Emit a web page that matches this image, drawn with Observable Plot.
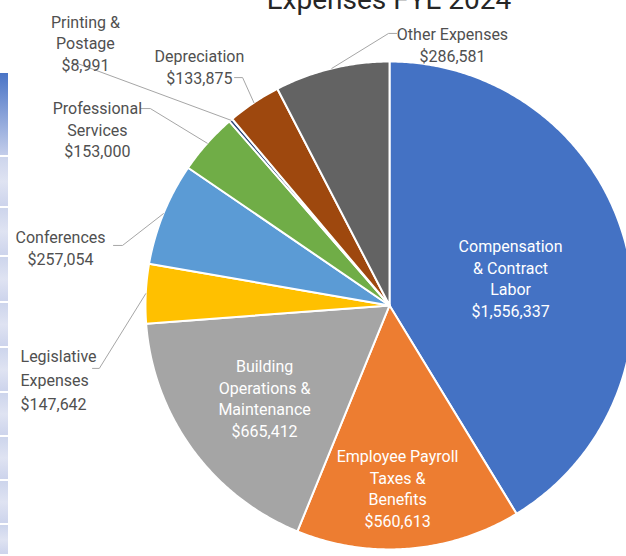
<!DOCTYPE html>
<html>
<head>
<meta charset="utf-8">
<script src="https://cdn.jsdelivr.net/npm/d3@7"></script>
<script src="https://cdn.jsdelivr.net/npm/@observablehq/plot@0.6"></script>
<style>
  html, body { margin: 0; padding: 0; background: #fff; overflow: hidden; width: 626px; height: 556px; }
  #wrap { position: relative; width: 626px; height: 556px; overflow: hidden; }
  #title { position: absolute; left: 0; width: 778px; top: -14px; text-align: center;
           font-family: Roboto, sans-serif; font-size: 28px; line-height: 28px; color: #262626; z-index: 2; }
  #strip { position: absolute; left: 0; top: 73px; width: 8px; height: 483px; z-index: 2; }
  #chart { position: absolute; left: 0; top: 0; }
</style>
</head>
<body>
<div id="wrap">
  <div id="strip"></div>
  <div id="chart"></div>
  <div id="title">Expenses FYE 2024</div>
</div>
<script>
// ---- data ----
const categories = [
  "Compensation & Contract Labor",
  "Employee Payroll Taxes & Benefits",
  "Building Operations & Maintenance",
  "Legislative Expenses",
  "Conferences",
  "Professional Services",
  "Printing & Postage",
  "Depreciation",
  "Other Expenses"
];
const values = [1556337, 560613, 665412, 147642, 257054, 153000, 8991, 133875, 286581];
const labelLines = [
  "Compensation\n& Contract\nLabor",
  "Employee Payroll\nTaxes &\nBenefits",
  "Building\nOperations &\nMaintenance",
  "Legislative\nExpenses",
  "Conferences",
  "Professional\nServices",
  "Printing &\nPostage",
  "Depreciation",
  "Other Expenses"
];

// ---- style ----
const colors = ["#4472C4", "#ED7D31", "#A5A5A5", "#FFC000", "#5B9BD5", "#70AD47", "#264478", "#9E480E", "#636363"];
// label layout in pie-radius units (center = 0,0)
const labelLayout = [
  {x: 0.496, y: 0.115, anchor: "middle", inside: true},
  {x: 0.033, y: -0.746, anchor: "middle", inside: true},
  {x: -0.512, y: -0.377, anchor: "middle", inside: true},
  {x: -1.512, y: -0.298, anchor: "start", lead: [[-1.217, -0.258], [-1.189, -0.258]]},
  {x: -1.348, y: 0.240, anchor: "middle", lead: [[-1.131, 0.246], [-1.094, 0.246]]},
  {x: -1.197, y: 0.724, anchor: "middle", lead: [[-1.020, 0.807], [-0.980, 0.807]]},
  {x: -1.246, y: 1.078, anchor: "middle", lead: [[-1.303, 0.992], [-1.279, 0.992]]},
  {x: -0.779, y: 0.980, anchor: "middle", lead: [[-0.635, 0.934], [-0.602, 0.934]]},
  {x: 0.258, y: 1.072, anchor: "middle", lead: [[0.029, 1.115], [-0.004, 1.115]]}
];

// ---- geometry from values ----
const arcs = d3.pie().sort(null).value(d => d)(values);
const slicePts = [];
arcs.forEach((p, i) => {
  const name = categories[i];
  const n = Math.max(2, Math.ceil((p.endAngle - p.startAngle) / (Math.PI / 360)));
  slicePts.push({name, x: 0, y: 0});
  for (let k = 0; k <= n; k++) {
    const a = p.startAngle + (p.endAngle - p.startAngle) * k / n;
    slicePts.push({name, x: Math.sin(a), y: Math.cos(a)});
  }
  slicePts.push({name, x: 0, y: 0});
});

const leaderPts = [];
arcs.forEach((p, i) => {
  const L = labelLayout[i];
  if (!L.lead) return;
  const mid = (p.startAngle + p.endAngle) / 2;
  const name = categories[i];
  leaderPts.push({name, x: L.lead[0][0], y: L.lead[0][1]});
  leaderPts.push({name, x: L.lead[1][0], y: L.lead[1][1]});
  leaderPts.push({name, x: Math.sin(mid), y: Math.cos(mid)});
});

const fmt = d3.format(",");
const labels = categories.map((c, i) => ({
  name: c,
  text: labelLines[i] + "\n$" + fmt(values[i]),
  x: labelLayout[i].x, y: labelLayout[i].y,
  anchor: labelLayout[i].anchor,
  inside: !!labelLayout[i].inside
}));

const chart = Plot.plot({
  width: 626,
  height: 556,
  margin: 0,
  x: {domain: [-1.594, 0.971], axis: null},
  y: {domain: [-1.029, 1.250], axis: null},
  color: {domain: categories, range: colors},
  style: {fontFamily: "Roboto, sans-serif", background: "transparent"},
  marks: [
    Plot.line(slicePts, {x: "x", y: "y", z: "name", fill: "name", stroke: "white", strokeWidth: 2, strokeLinejoin: "round"}),
    Plot.line(leaderPts, {x: "x", y: "y", z: "name", stroke: "#A6A6A6", strokeWidth: 1}),
    Plot.text(labels.filter(d => d.inside), {x: "x", y: "y", text: "text", fill: "white", fontSize: 16, lineHeight: 1.35, textAnchor: "middle"}),
    Plot.text(labels.filter(d => !d.inside && d.anchor === "middle"), {x: "x", y: "y", text: "text", fill: "#505050", fontSize: 16, lineHeight: 1.35, textAnchor: "middle"}),
    Plot.text(labels.filter(d => !d.inside && d.anchor === "start"), {x: "x", y: "y", text: "text", fill: "#505050", fontSize: 16, lineHeight: 1.5, textAnchor: "start"})
  ]
});
document.getElementById("chart").appendChild(chart);

// decorative strip at left edge (part of the slide behind the chart)
const strip = document.getElementById("strip");
const dividers = [84, 135, 184, 230, 275, 320, 364, 408, 452];
let prev = 0;
dividers.concat([483]).forEach((d, i) => {
  const cell = document.createElement("div");
  cell.style.cssText = `position:absolute;left:0;width:8px;top:${prev}px;height:${d - prev - 2}px;` +
    (i === 0 ? "background:linear-gradient(#4a74c6,#c3cdea);" : "background:linear-gradient(#cdd5ec,#dfe3f2,#cdd4ec);");
  strip.appendChild(cell);
  prev = d;
});
</script>
</body>
</html>
